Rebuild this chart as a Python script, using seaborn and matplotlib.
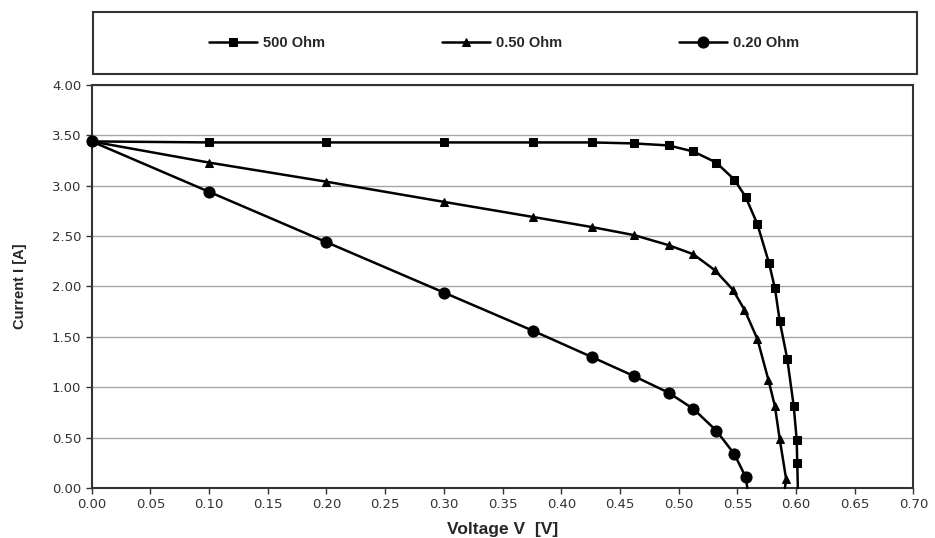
import numpy as np
import pandas as pd
import matplotlib
matplotlib.use("Agg")
import matplotlib.pyplot as plt
import seaborn as sns
from matplotlib.patches import Rectangle

# values
v_500 = [0.0, 0.10, 0.20, 0.30, 0.376, 0.426, 0.462, 0.4915, 0.5125, 0.532, 0.5475,
         0.557, 0.567, 0.577, 0.582, 0.586, 0.5925, 0.598, 0.6005, 0.601, 0.6015]
i_500 = [3.44, 3.43, 3.43, 3.43, 3.43, 3.43, 3.42, 3.40, 3.34, 3.23, 3.06,
         2.89, 2.62, 2.23, 1.98, 1.66, 1.28, 0.81, 0.48, 0.25, 0.0]

v_050 = [0.0, 0.10, 0.20, 0.30, 0.376, 0.426, 0.462, 0.4915, 0.5125, 0.531, 0.546,
         0.556, 0.567, 0.5765, 0.582, 0.586, 0.5915, 0.5905]
i_050 = [3.44, 3.23, 3.04, 2.84, 2.69, 2.59, 2.51, 2.41, 2.32, 2.16, 1.97,
         1.77, 1.48, 1.07, 0.81, 0.49, 0.09, 0.0]

v_020 = [0.0, 0.10, 0.20, 0.30, 0.376, 0.426, 0.462, 0.4915, 0.5125, 0.532, 0.5475,
         0.557, 0.5585]
i_020 = [3.44, 2.94, 2.44, 1.94, 1.56, 1.30, 1.11, 0.945, 0.785, 0.57, 0.335,
         0.11, 0.0]

series = [("500 Ohm", v_500, i_500, "s", 5.5),
          ("0.50 Ohm", v_050, i_050, "^", 5.5),
          ("0.20 Ohm", v_020, i_020, "o", 8.0)]

sns.set_style("white")
plt.rcParams['font.family'] = ['Liberation Sans', 'DejaVu Sans']

fig = plt.figure(figsize=(9.35, 5.38), dpi=100)
ax = fig.add_axes([0.098, 0.093, 0.879, 0.749])

for name, v, cur, mk, ms in series:
    df = pd.DataFrame({"V": v, "I": cur})
    sns.lineplot(data=df, x="V", y="I", ax=ax, color="black", linewidth=1.8,
                 marker=mk, markersize=ms, markeredgecolor="black",
                 markevery=list(range(len(v) - 1)), sort=False,
                 label=name, clip_on=False, zorder=3)

ax.set_xlim(0, 0.70)
ax.set_ylim(0, 4.0)
ax.set_xticks(np.arange(0, 0.701, 0.05))
ax.set_yticks(np.arange(0, 4.01, 0.5))
ax.xaxis.set_major_formatter(matplotlib.ticker.FormatStrFormatter("%.2f"))
ax.yaxis.set_major_formatter(matplotlib.ticker.FormatStrFormatter("%.2f"))
ax.tick_params(axis="both", direction="out", length=4, width=1, labelsize=9.5,
               colors="#333333", bottom=True, left=True)
for lab in ax.get_xticklabels() + ax.get_yticklabels():
    lab.set_family("DejaVu Sans")
ax.yaxis.grid(True, color="#a6a6a6", linewidth=1)
ax.xaxis.grid(False)
ax.set_axisbelow(True)
for s in ax.spines.values():
    s.set_color("#333333")
    s.set_linewidth(1.5)

ax.set_xlabel("Voltage V  [V]", fontsize=12.5, fontweight="bold", labelpad=8)
ax.set_ylabel("Current I [A]", fontsize=10.5, fontweight="bold", labelpad=18)

# legend box at the top
ax.get_legend().remove()
handles, labels = ax.get_legend_handles_labels()
fig.add_artist(Rectangle((0.0995, 0.862), 0.881, 0.116, transform=fig.transFigure,
                         fill=False, edgecolor="#333333", linewidth=1.5))
fig.legend(handles, labels, loc="center", bbox_to_anchor=(0.539, 0.92), ncol=3,
           frameon=False, handlelength=3.3, handletextpad=0.4, columnspacing=8.0,
           prop={"weight": "bold", "size": 10.5})

fig.savefig("out.png", dpi=100)
